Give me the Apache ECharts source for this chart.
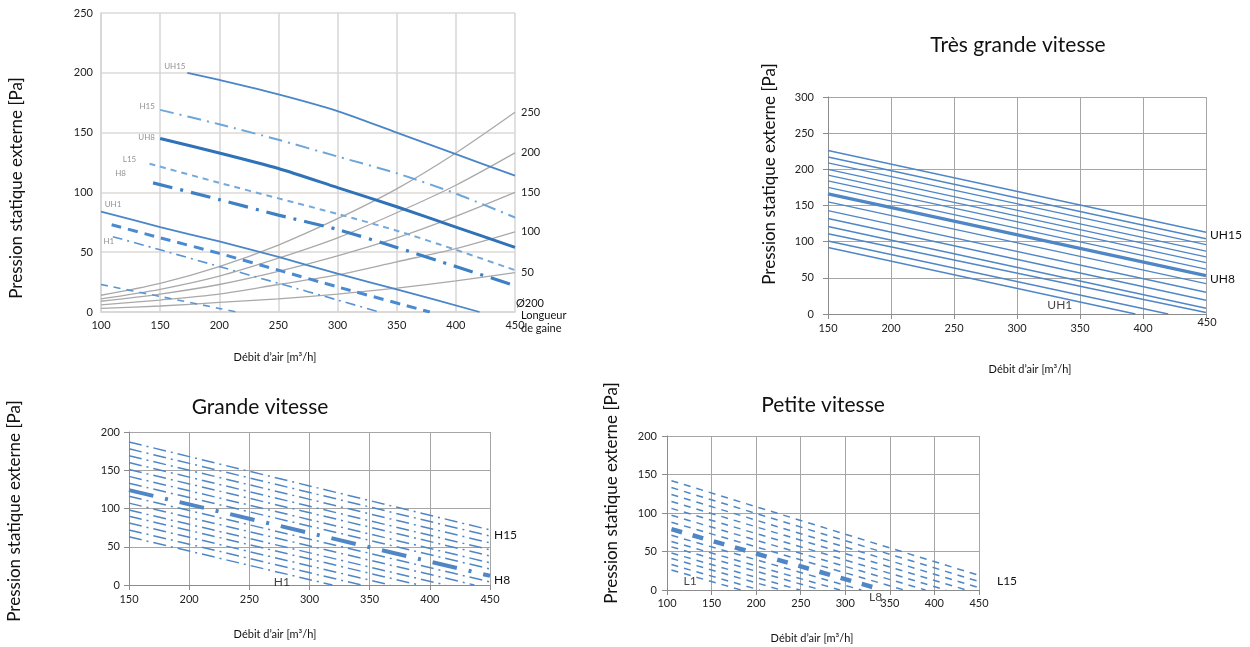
<!DOCTYPE html>
<html>
<head>
<meta charset="utf-8">
<script src="https://cdn.jsdelivr.net/npm/echarts@6/dist/echarts.min.js"></script>
<style>
  html, body { margin: 0; padding: 0; background: #ffffff; }
  #main { position: absolute; left: 0; top: 0; width: 1250px; height: 647px; }
  #duct { position: absolute; left: 0; top: 0; width: 600px; height: 370px; filter: blur(0.5px); }
</style>
</head>
<body>
<div id="main"></div>
<div id="duct"></div>
<script>
// ---------- Overview: fan curves against duct-length system curves ----------
const ductLengths = ['250', '200', '150', '100', '50'];
const ductCurves = [
  [[100, 14], [150, 24], [200, 38], [250, 56], [300, 78], [350, 103], [400, 133], [450, 167]],
  [[100, 11], [150, 19], [200, 30], [250, 45], [300, 62], [350, 83], [400, 106], [450, 133]],
  [[100, 9], [150, 15], [200, 23], [250, 34], [300, 47], [350, 62], [400, 80], [450, 100]],
  [[100, 6], [150, 10], [200, 15], [250, 23], [300, 31], [350, 42], [400, 53], [450, 67]],
  [[100, 3], [150, 5], [200, 8], [250, 11], [300, 15], [350, 20], [400, 26], [450, 33]]
];
const overviewNames = ['UH15', 'H15', 'UH8', 'L15', 'H8', 'UH1', 'L8', 'H1', 'L1'];
const overviewCurves = [
  [[173, 200], [200, 194], [250, 182], [300, 168], [350, 150], [400, 132], [450, 114]],
  [[150, 169], [200, 157], [250, 144], [300, 130], [350, 116], [400, 99], [450, 79]],
  [[150, 145], [200, 133], [250, 120], [300, 104], [350, 88], [400, 71], [450, 54]],
  [[141, 124], [200, 108], [250, 95], [300, 82], [350, 68], [400, 52], [450, 35]],
  [[144, 108], [200, 94], [250, 81], [300, 69], [350, 54], [400, 38], [450, 22]],
  [[100, 84], [150, 71], [200, 59], [250, 46], [300, 32], [350, 19], [420, 0]],
  [[109, 73], [150, 62], [200, 49], [250, 35], [300, 21], [378, 0]],
  [[110, 63], [150, 52], [200, 38], [250, 24], [300, 10], [335, 0]],
  [[100, 23], [150, 13], [200, 3], [215, 0]]
];

// ---------- Très grande vitesse (UH1 … UH15) ----------
const uhNames = ['UH1','UH2','UH3','UH4','UH5','UH6','UH7','UH8','UH9','UH10','UH11','UH12','UH13','UH14','UH15'];
const uhLines = [
  [[150, 92], [394, 0]],
  [[150, 101], [420, 0]],
  [[150, 111], [450, 2]],
  [[150, 121], [450, 8]],
  [[150, 132], [450, 19]],
  [[150, 143], [450, 30]],
  [[150, 155], [450, 42]],
  [[150, 166], [450, 53]],
  [[150, 175], [450, 62]],
  [[150, 184], [450, 71]],
  [[150, 192], [450, 79]],
  [[150, 200], [450, 87]],
  [[150, 209], [450, 96]],
  [[150, 217], [450, 104]],
  [[150, 226], [450, 113]]
];

// ---------- Grande vitesse (H1 … H15) ----------
const hNames = ['H1','H2','H3','H4','H5','H6','H7','H8','H9','H10','H11','H12','H13','H14','H15'];
const hLines = [
  [[150, 63], [319, 0]],
  [[150, 72], [343, 0]],
  [[150, 81], [367, 0]],
  [[150, 90], [391, 0]],
  [[150, 98], [413, 0]],
  [[150, 107], [437, 0]],
  [[150, 116], [450, 4]],
  [[150, 124], [450, 12]],
  [[150, 133], [450, 21]],
  [[150, 142], [450, 29]],
  [[150, 151], [450, 38]],
  [[150, 160], [450, 46]],
  [[150, 169], [450, 55]],
  [[150, 178], [450, 64]],
  [[150, 187], [450, 72]]
];

// ---------- Petite vitesse (L1 … L15) ----------
const lNames = ['L1','L2','L3','L4','L5','L6','L7','L8','L9','L10','L11','L12','L13','L14','L15'];
const lLines = [
  [[105, 26], [183, 0]],
  [[105, 33], [204, 0]],
  [[105, 41], [228, 0]],
  [[105, 48], [249, 0]],
  [[105, 56], [273, 0]],
  [[105, 63], [294, 0]],
  [[105, 71], [318, 0]],
  [[105, 79], [342, 0]],
  [[105, 88], [366, 0]],
  [[105, 97], [390, 0]],
  [[105, 106], [413, 0]],
  [[105, 115], [436, 0]],
  [[105, 124], [450, 3]],
  [[105, 133], [450, 11]],
  [[105, 142], [450, 19]]
];

const FONT = 'Lato, "Noto Sans", sans-serif';
const BLUE = '#4f86c6';
const Y_TITLE = 'Pression statique externe [Pa]';
const X_TITLE = 'Débit d’air [m³/h]';

function txt(text, x, y, size, opts) {
  opts = opts || {};
  return {
    type: 'text', x: x, y: y, rotation: opts.rotation || 0, silent: true,
    style: {
      text: text, font: size + 'px ' + FONT, fill: opts.color || '#111',
      align: opts.align || 'center', verticalAlign: 'middle',
      textAlign: opts.align || 'center', textVerticalAlign: 'middle'
    }
  };
}

// ===== Overview chart =====
const duct = echarts.init(document.getElementById('duct'), null, { width: 600, height: 370 });

const ductStyle = {
  UH15: { color: '#4a86c8', width: 1.8, type: 'solid' },
  H15:  { color: '#6ea6da', width: 2, type: [14, 6, 2, 6] },
  UH8:  { color: '#2f72b8', width: 3, type: 'solid' },
  L15:  { color: '#74a9dc', width: 2, type: [6, 5] },
  H8:   { color: '#3d80c4', width: 3.2, type: [20, 8, 3, 8] },
  UH1:  { color: '#4a86c8', width: 1.8, type: 'solid' },
  L8:   { color: '#4a8ad0', width: 3, type: [10, 7] },
  H1:   { color: '#5a95d2', width: 1.6, type: [10, 5, 2, 5] },
  L1:   { color: '#5a95d2', width: 1.6, type: [7, 6] }
};
const ductTagPos = {
  UH15: [-12.5, -6], H15: [-13, -3], UH8: [-13.5, -1.6], L15: [-20, -4],
  H8: [-32.5, -9], UH1: [12, -7.5], H1: [-4, 5]
};

const ductSeries = [];
ductCurves.forEach(function (pts, i) {
  ductSeries.push({
    type: 'line', data: pts, smooth: 0.3, showSymbol: false, silent: true,
    lineStyle: { color: '#a9a9a9', width: 1.3 },
    endLabel: { show: true, formatter: ductLengths[i], color: '#222', fontSize: 11, fontFamily: FONT, distance: 6 }
  });
});
overviewCurves.forEach(function (pts, i) {
  const name = overviewNames[i];
  ductSeries.push({
    type: 'line', name: name, data: pts, smooth: 0.25, showSymbol: false, silent: true,
    lineStyle: ductStyle[name]
  });
});
ductSeries.push({
  type: 'scatter', silent: true, symbolSize: 0, clip: false,
  data: overviewNames.filter(function (n) { return ductTagPos[n]; }).map(function (n) {
    const p = overviewCurves[overviewNames.indexOf(n)][0];
    return {
      value: p,
      label: { show: true, formatter: n, position: ductTagPos[n], align: 'center', verticalAlign: 'middle',
               color: '#777', fontSize: 8, fontFamily: FONT }
    };
  })
});

duct.setOption({
  animation: false,
  grid: { left: 101, top: 13, width: 414, height: 299 },
  xAxis: {
    type: 'value', min: 100, max: 450, interval: 50,
    axisLine: { show: true, lineStyle: { color: '#d6d6d6', width: 1.5 } },
    axisTick: { show: false },
    axisLabel: { color: '#222', fontSize: 11, fontFamily: FONT, margin: 8 },
    splitLine: { show: true, lineStyle: { color: '#d9d9d9', width: 1.6 } }
  },
  yAxis: {
    type: 'value', min: 0, max: 250, interval: 50,
    axisLine: { show: true, lineStyle: { color: '#d6d6d6', width: 1.5 } },
    axisTick: { show: false },
    axisLabel: { color: '#222', fontSize: 11, fontFamily: FONT, margin: 8 },
    splitLine: { show: true, lineStyle: { color: '#ddd8d4', width: 1.6 } }
  },
  series: ductSeries,
  graphic: [
    txt(Y_TITLE, 17, 188, 17, { rotation: Math.PI / 2 }),
    txt(X_TITLE, 275, 357, 11),
    txt('Ø200', 516, 303, 11, { align: 'left' }),
    txt('Longueur', 521, 315, 11, { align: 'left' }),
    txt('de gaine', 521, 328, 11, { align: 'left' })
  ]
});

// ===== Speed charts =====
const main = echarts.init(document.getElementById('main'), null, { width: 1250, height: 647 });

function xAx(grid, min, max, margin, formatter) {
  return {
    type: 'value', gridIndex: grid, min: min, max: max, interval: 50,
    axisLine: { show: true, lineStyle: { color: '#8c8c8c', width: 1 } },
    axisTick: { show: true, length: 5, lineStyle: { color: '#8c8c8c' } },
    axisLabel: { color: '#222', fontSize: 11, fontFamily: FONT, margin: margin, formatter: formatter },
    splitLine: { show: true, lineStyle: { color: '#a6a6a6', width: 1 } }
  };
}
function yAx(grid, max, margin) {
  return {
    type: 'value', gridIndex: grid, min: 0, max: max, interval: 50,
    axisLine: { show: true, lineStyle: { color: '#8c8c8c', width: 1 } },
    axisTick: { show: true, length: 5, lineStyle: { color: '#8c8c8c' } },
    axisLabel: { color: '#222', fontSize: 11, fontFamily: FONT, margin: margin },
    splitLine: { show: true, lineStyle: { color: '#a6a6a6', width: 1 } }
  };
}

const series = [];
function family(names, lines, axis, thickName, style, endTags) {
  lines.forEach(function (pts, i) {
    const name = names[i];
    const thick = name === thickName;
    const s = {
      type: 'line', name: name, data: pts, xAxisIndex: axis, yAxisIndex: axis,
      showSymbol: false, silent: true,
      lineStyle: thick ? style.thick : style.thin
    };
    if (endTags[name]) {
      s.endLabel = {
        show: true, formatter: name, color: '#111', fontSize: 12, fontFamily: FONT,
        distance: endTags[name].d, offset: [0, endTags[name].dy]
      };
    }
    series.push(s);
  });
}
family(uhNames, uhLines, 0, 'UH8', {
  thin: { color: BLUE, width: 1.4, type: 'solid' },
  thick: { color: BLUE, width: 3.2, type: 'solid' }
}, { UH15: { d: 4, dy: 3 }, UH8: { d: 4, dy: 3 } });
family(hNames, hLines, 1, 'H8', {
  thin: { color: BLUE, width: 1.5, type: [13, 5, 2, 5] },
  thick: { color: BLUE, width: 4, type: [25, 12, 3, 12] }
}, { H15: { d: 4, dy: 5 }, H8: { d: 4, dy: 4 } });
family(lNames, lLines, 2, 'L8', {
  thin: { color: BLUE, width: 1.5, type: [7, 6] },
  thick: { color: BLUE, width: 4.5, type: [11, 11] }
}, { L15: { d: 18, dy: 6 } });

function tag(axis, text, at) {
  series.push({
    type: 'scatter', xAxisIndex: axis, yAxisIndex: axis, silent: true, symbolSize: 0, clip: false,
    data: [at],
    label: { show: true, formatter: text, position: 'inside', color: '#111', fontSize: 12, fontFamily: FONT }
  });
}
tag(0, 'UH1', [334, 12]);
tag(1, 'H1', [277, 4]);
tag(2, 'L1', [126, 12]);
tag(2, 'L8', [334, -9]);

main.setOption({
  animation: false,
  grid: [
    { left: 828, top: 97, width: 378, height: 217 },
    { left: 129, top: 432, width: 361, height: 153 },
    { left: 667, top: 436, width: 312, height: 154 }
  ],
  xAxis: [
    xAx(0, 150, 450, 9, function (v) { return v === 450 ? '' : v; }),
    xAx(1, 150, 450, 9),
    xAx(2, 100, 450, 8)
  ],
  yAxis: [yAx(0, 300, 14), yAx(1, 200, 9), yAx(2, 200, 10)],
  series: series,
  graphic: [
    txt('Très grande vitesse', 1018, 45, 21),
    txt(Y_TITLE, 770, 174, 17, { rotation: Math.PI / 2 }),
    txt(X_TITLE, 1030, 369, 11),
    txt('450', 1207, 322, 11, { color: '#222' }),
    txt('Grande vitesse', 260, 407, 21),
    txt(Y_TITLE, 15, 511, 17, { rotation: Math.PI / 2 }),
    txt(X_TITLE, 275, 634, 11),
    txt('Petite vitesse', 823, 405, 21),
    txt(Y_TITLE, 612, 493, 17, { rotation: Math.PI / 2 }),
    txt(X_TITLE, 812, 638, 11)
  ]
});
</script>
</body>
</html>
